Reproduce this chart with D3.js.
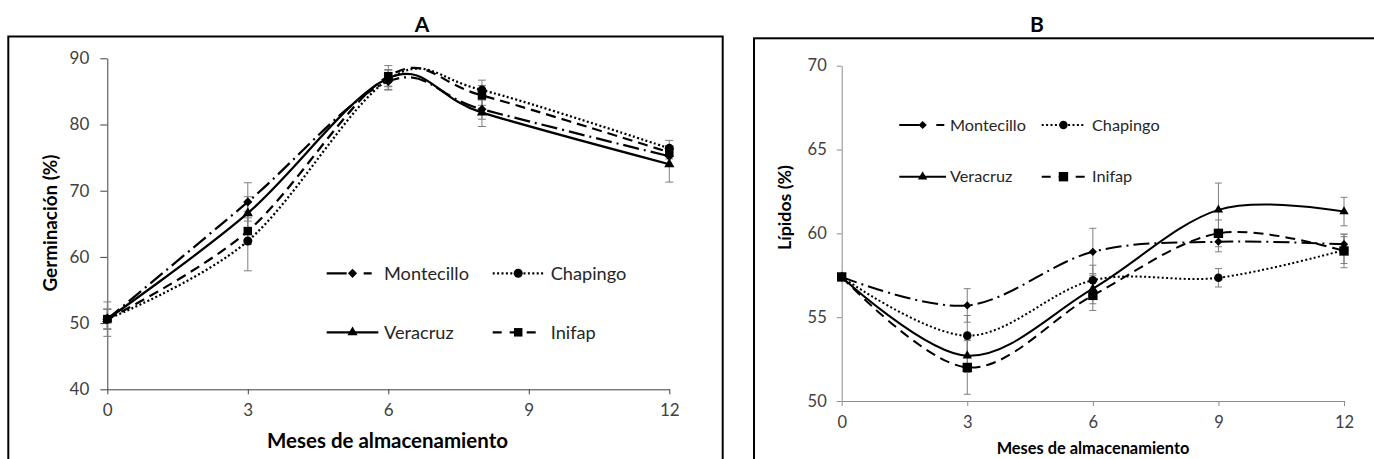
<!DOCTYPE html>
<html><head><meta charset="utf-8">
<script src="https://cdn.jsdelivr.net/npm/d3@7"></script>
<style>
body{margin:0;background:#fff}
svg{display:block}
text{font-family:Lato,"Open Sans",sans-serif}
</style>
</head><body>
<svg id="c" width="1374" height="459"></svg>
<script>
// ---------------- data ----------------
const seriesNames = ["Montecillo", "Chapingo", "Veracruz", "Inifap"];
const monthTicks = [0, 3, 6, 9, 12];

// Panel A: Germinación (%)
const germMonths = [0, 3, 6, 8, 12];
const germTicks = [40, 50, 60, 70, 80, 90];
const germMontecillo = [50.6, 68.3, 86.5, 82.3, 75.2];
const germChapingo   = [50.6, 62.4, 86.8, 85.2, 76.4];
const germVeracruz   = [50.6, 66.6, 87.0, 81.8, 74.0];
const germInifap     = [50.6, 63.9, 87.3, 84.4, 75.8];
const germErrMontecillo = [2.6, 2.9, 1.3, 1.5, 1.5];
const germErrChapingo   = [1.5, 4.5, 1.5, 1.5, 1.2];
const germErrVeracruz   = [1.5, 2.5, 1.2, 2.1, 2.7];
const germErrInifap     = [1.5, 2.0, 1.6, 1.5, 1.0];

// Panel B: Lípidos (%)
const lipMonths = [0, 3, 6, 9, 12];
const lipTicks = [50, 55, 60, 65, 70];
const lipMontecillo = [57.4, 55.7, 58.9, 59.5, 59.35];
const lipChapingo   = [57.4, 53.9, 57.2, 57.35, 59.0];
const lipVeracruz   = [57.4, 52.7, 56.7, 61.4, 61.3];
const lipInifap     = [57.4, 52.0, 56.3, 60.0, 58.95];
const lipErrMontecillo = [0.2, 1.0, 1.4, 0.6, 0.6];
const lipErrChapingo   = [0.2, 1.2, 0.9, 0.55, 0.8];
const lipErrVeracruz   = [0.2, 1.0, 0.9, 1.6, 0.85];
const lipErrInifap     = [0.2, 1.6, 0.9, 0.8, 1.0];

// ---------------- styles ----------------
const styleOf = {
  Montecillo: {dash: "16,5,2,5", legendDash: "20,17,8,60", marker: "diamond"},
  Chapingo:   {dash: "2,2.4",    legendDash: "2,2.4",      marker: "circle"},
  Veracruz:   {dash: null,       legendDash: null,         marker: "triangle"},
  Inifap:     {dash: "10,6",     legendDash: "9,8",        marker: "square"}
};

const svg = d3.select("#c");

function fit(sel, target) {
  const w = sel.node().getComputedTextLength();
  const fs = parseFloat(sel.attr("font-size"));
  sel.attr("font-size", fs * target / w);
  return sel;
}

function markerPath(kind, sz) {
  if (kind === "diamond") return d3.symbol(d3.symbolSquare, sz.diamond)();
  if (kind === "circle") return d3.symbol(d3.symbolCircle, sz.circle)();
  if (kind === "triangle") return d3.symbol(d3.symbolTriangle, sz.triangle)();
  return d3.symbol(d3.symbolSquare, sz.square)();
}
function markerTransform(kind, x, y) {
  return kind === "diamond" ? `translate(${x},${y}) rotate(45)` : `translate(${x},${y})`;
}

function panel(cfg) {
  const g = svg.append("g");
  // frame
  g.append("rect").attr("x", cfg.frame[0]).attr("y", cfg.frame[1])
    .attr("width", cfg.frame[2]).attr("height", cfg.frame[3])
    .attr("fill", "none").attr("stroke", "#000").attr("stroke-width", 2);

  const x = d3.scaleLinear().domain([0, 12]).range(cfg.xRange);
  const y = d3.scaleLinear().domain(cfg.yDomain).range(cfg.yRange);

  // axes
  const ya = g.append("g").attr("transform", `translate(${cfg.xRange[0]},0)`)
    .call(d3.axisLeft(y).tickValues(cfg.yTicks).tickSize(cfg.yTickLen).tickSizeOuter(0).tickPadding(cfg.yPad));
  const xa = g.append("g").attr("transform", `translate(0,${cfg.yRange[0]})`)
    .call(d3.axisBottom(x).tickValues(monthTicks).tickSize(cfg.xTickLen).tickSizeOuter(0).tickPadding(cfg.xPad));
  [ya, xa].forEach(a => {
    a.selectAll("path,line").attr("stroke", cfg.axisColor).attr("stroke-width", 1);
    a.selectAll("text").attr("font-size", cfg.tickFont).attr("fill", "#404040")
      .attr("font-family", "Lato");
  });

  // error bars
  const eb = g.append("g").attr("stroke", "#7f7f7f").attr("stroke-width", 1);
  cfg.series.forEach(s => {
    s.values.forEach((v, i) => {
      const e = s.errors[i], cx = x(cfg.months[i]);
      eb.append("line").attr("x1", cx).attr("x2", cx).attr("y1", y(v - e)).attr("y2", y(v + e));
      [v - e, v + e].forEach(t => eb.append("line").attr("x1", cx - cfg.cap).attr("x2", cx + cfg.cap)
        .attr("y1", y(t)).attr("y2", y(t)));
    });
  });

  // lines
  const line = d3.line().x(d => x(d[0])).y(d => y(d[1])).curve(d3.curveCardinal.tension(0));
  cfg.series.forEach(s => {
    const st = styleOf[s.name];
    g.append("path").datum(s.values.map((v, i) => [cfg.months[i], v]))
      .attr("d", line).attr("fill", "none").attr("stroke", "#000")
      .attr("stroke-width", cfg.lineW).attr("stroke-dasharray", st.dash);
  });
  // markers
  cfg.series.forEach(s => {
    const st = styleOf[s.name];
    s.values.forEach((v, i) => {
      g.append("path").attr("d", markerPath(st.marker, cfg.msz))
        .attr("transform", markerTransform(st.marker, x(cfg.months[i]), y(v))).attr("fill", "#000");
    });
  });

  // legend
  cfg.series.forEach((s, k) => {
    const st = styleOf[s.name];
    const col = k % 2, row = Math.floor(k / 2);
    const lx = cfg.legend.cols[col], ly = cfg.legend.rows[row];
    const len = cfg.legend.len[col];
    g.append("line").attr("x1", lx).attr("x2", lx + len).attr("y1", ly).attr("y2", ly)
      .attr("stroke", "#000").attr("stroke-width", cfg.lineW).attr("stroke-dasharray", st.legendDash);
    g.append("path").attr("d", markerPath(st.marker, cfg.msz))
      .attr("transform", markerTransform(st.marker, lx + len / 2, ly)).attr("fill", "#000");
    const t = g.append("text").attr("x", cfg.legend.textX[col]).attr("y", ly)
      .attr("dy", "0.35em").attr("font-size", 16).attr("fill", "#262626").text(s.name);
    if (s.name === "Montecillo") fit(t, cfg.legend.montWidth);
    else t.attr("font-size", null);
  });
  // unify legend font size with Montecillo
  const fsz = g.selectAll("text").filter(function(){return this.textContent === "Montecillo";}).attr("font-size");
  g.selectAll("text").filter(function(){return seriesNames.includes(this.textContent);}).attr("font-size", fsz);

  // titles
  g.append("text").attr("x", cfg.title.x).attr("y", cfg.title.y).attr("text-anchor", "middle")
    .attr("font-weight", "bold").attr("font-size", 21).text(cfg.title.text);
  fit(g.append("text").attr("x", cfg.xTitle.x).attr("y", cfg.xTitle.y).attr("text-anchor", "middle")
    .attr("font-weight", "bold").attr("font-size", 16).text("Meses de almacenamiento"), cfg.xTitle.w);
  fit(g.append("text").attr("transform", `translate(${cfg.yTitle.x},${cfg.yTitle.y}) rotate(-90)`)
    .attr("text-anchor", "middle").attr("font-weight", "bold").attr("font-size", 16).text(cfg.yTitle.text), cfg.yTitle.w);
}

panel({
  frame: [8.3, 36.5, 714.4, 440],
  xRange: [107.3, 669.3], yDomain: [40, 90], yRange: [389.3, 58.3],
  yTicks: germTicks, yTickLen: 7, yPad: 11, xTickLen: 5, xPad: 10,
  axisColor: "#404040", tickFont: 17,
  months: germMonths, cap: 4, lineW: 2.25,
  msz: {diamond: 42, circle: 64, triangle: 45, square: 72},
  series: [
    {name: "Montecillo", values: germMontecillo, errors: germErrMontecillo},
    {name: "Chapingo", values: germChapingo, errors: germErrChapingo},
    {name: "Veracruz", values: germVeracruz, errors: germErrVeracruz},
    {name: "Inifap", values: germInifap, errors: germErrInifap}
  ],
  legend: {cols: [326.7, 492.7], len: [51.6, 51], textX: [384, 550.7], rows: [273.3, 332.3], montWidth: 85},
  title: {text: "A", x: 422, y: 31.7},
  xTitle: {x: 387.5, y: 448, w: 241},
  yTitle: {text: "Germinación (%)", x: 57, y: 223, w: 137}
});

panel({
  frame: [754, 38.3, 700, 440],
  xRange: [841.7, 1344], yDomain: [50, 70], yRange: [401, 65.7],
  yTicks: lipTicks, yTickLen: 5, yPad: 10, xTickLen: 5, xPad: 10,
  axisColor: "#8c8c8c", tickFont: 16.5,
  months: lipMonths, cap: 3.5, lineW: 2,
  msz: {diamond: 34, circle: 57, triangle: 38, square: 88},
  series: [
    {name: "Montecillo", values: lipMontecillo, errors: lipErrMontecillo},
    {name: "Chapingo", values: lipChapingo, errors: lipErrChapingo},
    {name: "Veracruz", values: lipVeracruz, errors: lipErrVeracruz},
    {name: "Inifap", values: lipInifap, errors: lipErrInifap}
  ],
  legend: {cols: [899.3, 1041.7], len: [46.7, 43.5], textX: [950, 1092], rows: [125, 176.7], montWidth: 76},
  title: {text: "B", x: 1037, y: 31.7},
  xTitle: {x: 1093, y: 454, w: 193},
  yTitle: {text: "Lípidos (%)", x: 791, y: 207.5, w: 85}
});
</script>
</body></html>
